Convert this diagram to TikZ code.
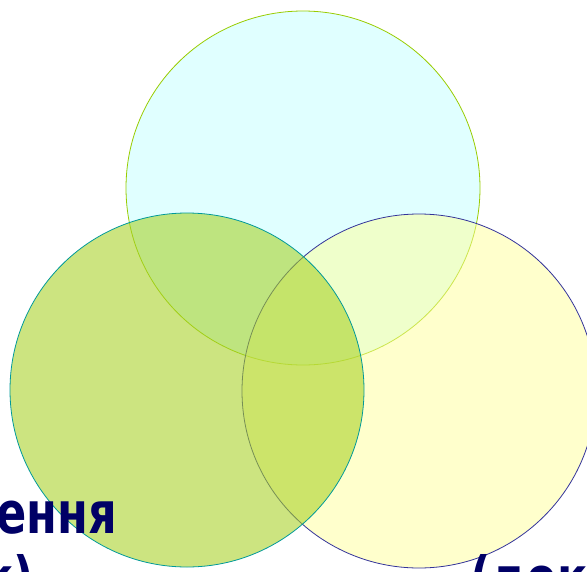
\documentclass[tikz,border=0pt]{standalone}
\usepackage{fontspec}
\setmainfont{DejaVu Sans}
\usepackage{xcolor}
\definecolor{cyanfill}{HTML}{E0FFFF}
\definecolor{limeline}{HTML}{99CC00}
\definecolor{yellowfill}{HTML}{FFFF99}
\definecolor{navyline}{HTML}{333399}
\definecolor{greenfill}{HTML}{A7D124}
\definecolor{tealline}{HTML}{009999}
\definecolor{titlenavy}{HTML}{000066}
\begin{document}
\begin{tikzpicture}[
  x=1pt,y=-1pt,
  ring/.style={circle,minimum size=354pt,inner sep=0pt,line width=0.8pt},
  label/.style={font=\fontsize{58}{63}\selectfont\bfseries,text=titlenavy,inner sep=0pt,xscale=0.77}
]
\useasboundingbox (0,0) rectangle (587,571);
\clip (0,0) rectangle (587,571);
% three overlapping circles
\node[ring,draw=limeline,fill=cyanfill] (upper) at (303,188) {};
\node[ring,draw=navyline,fill=yellowfill,fill opacity=0.5] (rightring) at (419,391) {};
\node[ring,draw=tealline,fill=greenfill,fill opacity=0.58] (leftring) at (187,390) {};
% cut-off captions
\node[label,anchor=base east] (capa) at (117,533) {ення};
\node[label,anchor=base east] (capb) at (34,598) {к)};
\node[label,anchor=base west] (capc) at (470,598) {(док};
\end{tikzpicture}
\end{document}
